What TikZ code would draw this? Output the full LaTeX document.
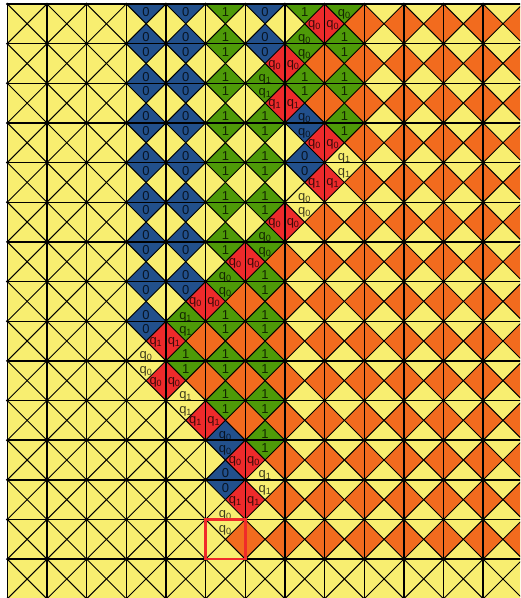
\documentclass[tikz,border=0pt]{standalone}
\usepackage{fontspec}
\setmainfont{Liberation Sans}
\definecolor{tileYellow}{HTML}{F8EE70}
\definecolor{tileOrange}{HTML}{F26B1E}
\definecolor{tileBlue}{HTML}{22508C}
\definecolor{tileGreen}{HTML}{4E9A08}
\definecolor{tileRed}{HTML}{EE2A2B}
\definecolor{markRed}{HTML}{F02A2A}
\newcommand{\edgekind}[3]{%
  \expandafter\def\csname kcol#1\endcsname{#2}%
  \expandafter\def\csname klab#1\endcsname{#3}}
\edgekind{b0}{tileBlue}{0}
\edgekind{g1}{tileGreen}{1}
\edgekind{gq0}{tileGreen}{q\textsubscript{0}}
\edgekind{gq1}{tileGreen}{q\textsubscript{1}}
\edgekind{bq0}{tileBlue}{q\textsubscript{0}}
\edgekind{yq0}{tileYellow}{q\textsubscript{0}}
\edgekind{yq1}{tileYellow}{q\textsubscript{1}}
\edgekind{rq0}{tileRed}{q\textsubscript{0}}
\edgekind{rq1}{tileRed}{q\textsubscript{1}}
\newcommand{\tapecells}{3/0/8/b0,3/9/9/yq0,
    4/0/7/b0,4/8/8/gq1,4/9/9/g1,4/10/10/yq1,
    5/0/6/g1,5/7/7/gq0,5/8/10/g1,5/11/11/bq0,5/12/12/b0,5/13/13/yq0,
    6/0/1/b0,6/2/2/gq1,6/3/5/g1,6/6/6/gq0,6/7/11/g1,6/12/12/yq1,
    7/0/0/g1,7/1/1/gq0,7/2/2/g1,7/3/3/bq0,7/4/4/b0,7/5/5/yq0,
    8/0/0/gq0,8/1/3/g1,8/4/4/yq1}
\newcommand{\headcells}{0/8/rq0,1/7/rq0,2/7/rq1,3/8/rq0,4/8/rq1,5/7/rq0,6/6/rq0,
    7/5/rq0,8/4/rq1,9/4/rq0,10/5/rq1,11/6/rq0,12/6/rq1}

\begin{document}
\begin{tikzpicture}[x=1cm, y=1cm,
    lab/.style={font=\fontsize{9.3}{11}\selectfont, inner sep=0pt, text=black, text opacity=0.75},
    tileline/.style={line width=0.7pt, black},
    gridline/.style={line width=1pt, black}]
  \useasboundingbox (-0.184,0.02) rectangle (12.93,15.1);
  \clip (-0.184,0.02) rectangle (12.93,15.1);
  \begin{scope}
    \clip (0,0) rectangle (13,15);
    \fill[tileYellow] (0,0) rectangle (13,15);
    \foreach \r/\j in {0/9,1/8,2/8,3/9,4/9,5/8,6/7,7/6,8/5,9/5,10/6,11/7,12/7,13/6}
      \foreach \x in {\j,...,13}
        \fill[tileOrange] (\x,14-\r) -- ++(0.5,0.5) -- ++(-0.5,0.5) -- ++(-0.5,-0.5) -- cycle;
    \foreach \r/\j/\e in \headcells {
      \edef\kc{\csname kcol\e\endcsname}
      \fill[fill=\kc] (\j,14-\r) -- ++(0.5,0.5) -- ++(-0.5,0.5) -- ++(-0.5,-0.5) -- cycle;
    }
    \foreach \c/\ka/\kb/\e in \tapecells {
      \edef\kc{\csname kcol\e\endcsname}
      \foreach \k in {\ka,...,\kb}
        \fill[fill=\kc] (\c,15-\k) -- ++(0.5,0.5) -- ++(0.5,-0.5) -- ++(-0.5,-0.5) -- cycle;
    }
  \end{scope}
  \foreach \x in {0,...,12}
    \foreach \y in {0,...,14} {
      \draw[tileline] (\x,\y) -- ++(1,1);
      \draw[tileline] (\x,\y+1) -- ++(1,-1);
    }
  \foreach \x in {0,...,13}
    \draw[gridline] (\x,0) -- (\x,15);
  \foreach \y in {0,...,15}
    \draw[gridline] (0,\y) -- (13,\y);
  \foreach \x in {0,...,13}
    \foreach \y in {0,...,15}
      \fill (\x,\y) circle (0.035);
  \foreach \c/\ka/\kb/\e in \tapecells
    \foreach \k in {\ka,...,\kb} {
      \ifnum\k>0
        \node[lab, anchor=base] (hu-\c-\k) at (\c+0.5,15-\k+0.05) {\csname klab\e\endcsname};
      \fi
      \node[lab, anchor=base] (hl-\c-\k) at (\c+0.5,15-\k-0.32) {\csname klab\e\endcsname};
    }
  \foreach \r/\j/\e in \headcells {
    \node[lab, anchor=base east] (vl-\r) at (\j-0.08,14.41-\r) {\csname klab\e\endcsname};
    \node[lab, anchor=base west] (vr-\r) at (\j+0.04,14.41-\r) {\csname klab\e\endcsname};
  }
  \node[draw=markRed, line width=1.9pt, minimum size=1cm, inner sep=0pt] (pick) at (5.5,1.5) {};
\end{tikzpicture}
\end{document}
